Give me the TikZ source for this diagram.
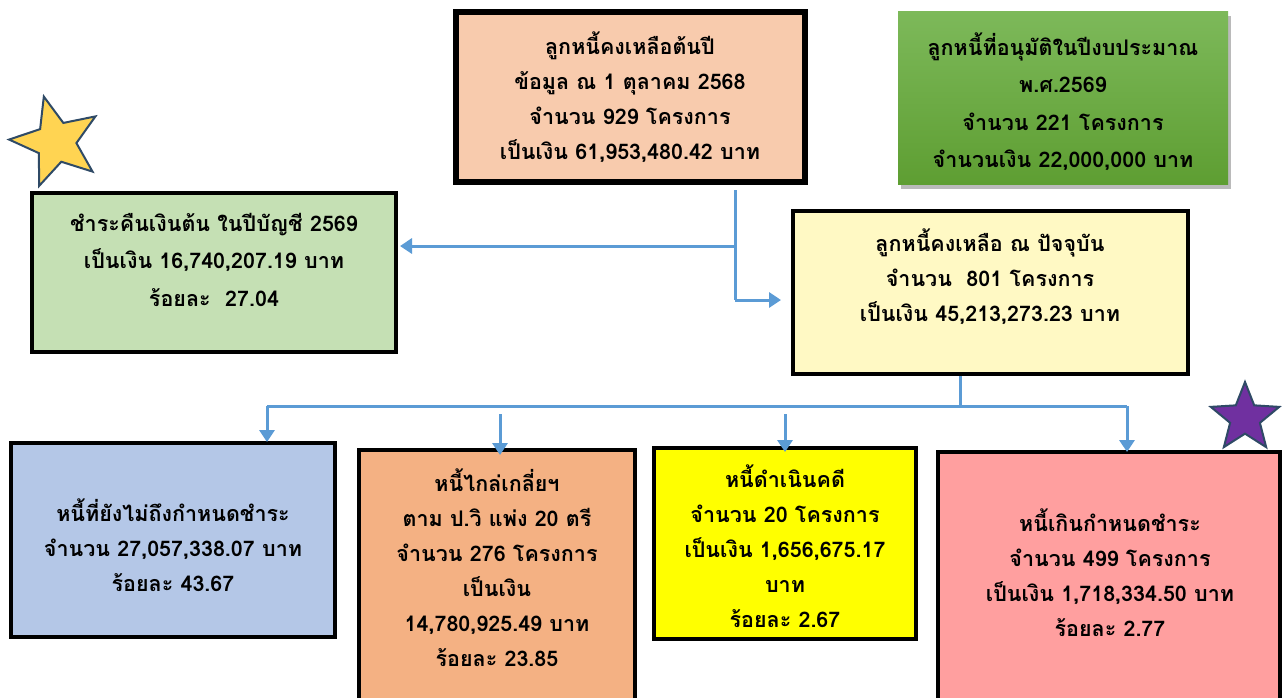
\documentclass[tikz,border=0pt]{standalone}
\usepackage{fontspec}
\newfontfamily\thaifont[Script=Thai]{Loma}
\usetikzlibrary{shapes.geometric,arrows.meta,shadows,calc}
\definecolor{arrowblue}{HTML}{5B9BD5}
\definecolor{peach}{HTML}{F8CBAD}
\definecolor{lgreen}{HTML}{C5E0B4}
\definecolor{lyellow}{HTML}{FFF9C4}
\definecolor{lblue}{HTML}{B4C7E7}
\definecolor{lorange}{HTML}{F4B183}
\definecolor{byellow}{HTML}{FFFF00}
\definecolor{lpink}{HTML}{FF9F9F}
\definecolor{gtop}{HTML}{7DB95A}
\definecolor{gbot}{HTML}{5E9E32}
\definecolor{starline}{HTML}{2F4A66}
\definecolor{staryellow}{HTML}{FFD452}
\definecolor{starpurple}{HTML}{7030A0}
\begin{document}
\begin{tikzpicture}[x=1pt,y=-1pt,
  box/.style={draw=black, line width=4pt, inner sep=0pt},
  txt/.style={align=center, inner sep=0pt, text=black,
    font=\thaifont\bfseries\fontsize{21.5}{35}\selectfont},
  txtwide/.style={txt, font=\thaifont\bfseries\fontsize{21.5}{37.5}\selectfont},
  conn/.style={draw=arrowblue, line width=3pt},
  tip/.style={-{Triangle[length=12pt,width=15pt]}},
  starshape/.style={star, star points=5, star point ratio=2.3, inner sep=0pt,
    draw=starline, line width=2pt}]
\clip (0,0) rectangle (1282,697);
\fill[white] (0,0) rectangle (1282,697);

% boxes
\node[box, line width=6pt, fill=peach, minimum width=349pt, minimum height=170pt] (b1) at (630.5,97) {};
\node[inner sep=0pt, minimum width=330pt, minimum height=173pt, top color=gtop, bottom color=gbot,
  drop shadow={shadow xshift=3pt, shadow yshift=-5pt, opacity=0.45, fill=black!60}] (bg) at (1063,97.5) {};
\node[box, fill=lgreen, minimum width=364pt, minimum height=159pt] (bl) at (214,272.5) {};
\node[box, fill=lyellow, minimum width=395pt, minimum height=163pt] (rem) at (990.5,292.5) {};
\node[box, fill=lblue, minimum width=324pt, minimum height=194pt] (d1) at (173,540) {};
\node[box, fill=lorange, minimum width=276pt, minimum height=268pt] (d2) at (497,584) {};
\node[box, fill=byellow, minimum width=262pt, minimum height=191pt] (d3) at (785,543.5) {};
\node[box, fill=lpink, minimum width=342pt, minimum height=266pt] (d4) at (1109,585) {};

% texts
\node[txt] (t1) at (630,97.5) {ลูกหนี้คงเหลือต้นปี\\ข้อมูล ณ 1 ตุลาคม 2568\\จำนวน 929 โครงการ\\เป็นเงิน 61,953,480.42 บาท};
\node[txtwide] (tg) at (1063,101.5) {ลูกหนี้ที่อนุมัติในปีงบประมาณ\\พ.ศ.2569\\จำนวน 221 โครงการ\\จำนวนเงิน 22,000,000 บาท};
\node[txtwide] (tl) at (214,259.5) {ชำระคืนเงินต้น ในปีบัญชี 2569\\เป็นเงิน 16,740,207.19 บาท\\ร้อยละ\ \ 27.04};
\node[txt] (tr) at (990,277) {ลูกหนี้คงเหลือ ณ ปัจจุบัน\\จำนวน\ \ 801 โครงการ\\เป็นเงิน 45,213,273.23 บาท};
\node[txt] (td1) at (173,545) {หนี้ที่ยังไม่ถึงกำหนดชำระ\\จำนวน 27,057,338.07 บาท\\ร้อยละ 43.67};
\node[txt] (td2) at (497,567.5) {หนี้ไกล่เกลี่ยฯ\\ตาม ป.วิ แพ่ง 20 ตรี\\จำนวน 276 โครงการ\\เป็นเงิน\\14,780,925.49 บาท\\ร้อยละ 23.85};
\node[txt] (td3) at (785,546) {หนี้ดำเนินคดี\\จำนวน 20 โครงการ\\เป็นเงิน 1,656,675.17\\บาท\\ร้อยละ 2.67};
\node[txt] (td4) at (1110,572.5) {หนี้เกินกำหนดชำระ\\จำนวน 499 โครงการ\\เป็นเงิน 1,718,334.50 บาท\\ร้อยละ 2.77};

% stars
\node[starshape, fill=staryellow, minimum size=94pt, rotate=15] (s1) at (56,142) {};
\node[starshape, fill=starpurple, minimum size=72pt] (s2) at (1245,418) {};

% connectors
\coordinate (a0) at (735,190);
\coordinate (a1) at (735,246);
\coordinate (a2) at (735,300);
\coordinate (c0) at (960,376);
\coordinate (c1) at (960,406);
\coordinate (hl) at (267,406);
\coordinate (hr) at (1127,406);
\coordinate (m2) at (500,414);
\coordinate (m3) at (785,414);

\draw[conn] (a0) -- (a2);
\draw[conn, tip] (a1) -- ([xshift=2pt]bl.east |- a1);
\draw[conn, tip] (a2) -- ([xshift=-10pt]rem.west |- a2);
\draw[conn] (rem.south -| c0) -- (c1);
\draw[conn] (hl) -- (hr);
\draw[conn, tip] (hl) -- ([yshift=-1pt]d1.north -| hl);
\draw[conn, tip] (m2) -- ([yshift=-7pt]d2.north -| m2);
\draw[conn, tip] (m3) -- ([yshift=-6pt]d3.north -| m3);
\draw[conn, tip] (hr) -- ([yshift=-2pt]d4.north -| hr);
\end{tikzpicture}
\end{document}
